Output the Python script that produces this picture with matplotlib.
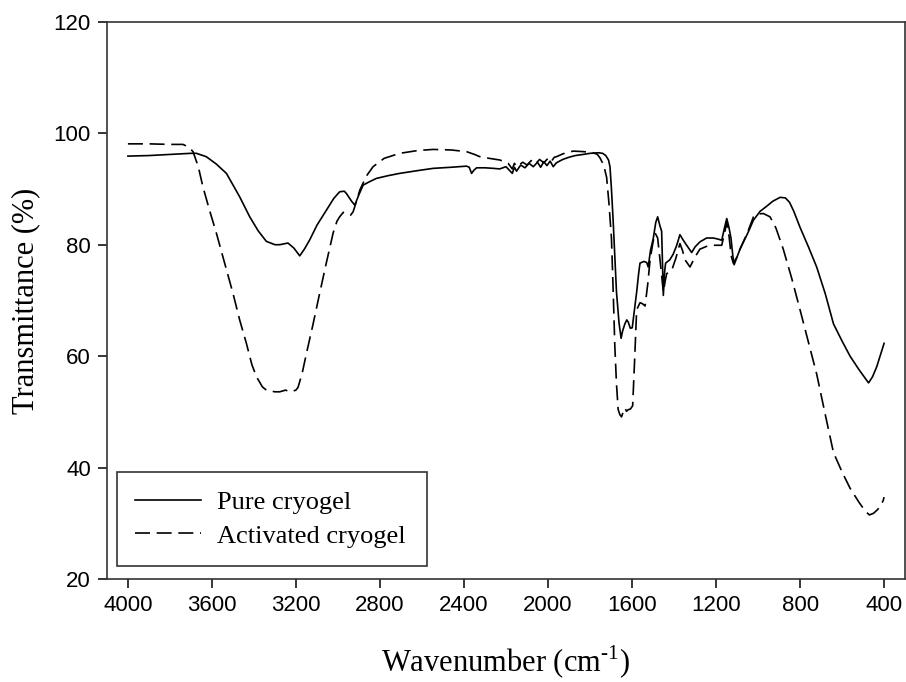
import matplotlib
matplotlib.use("Agg")
from matplotlib import pyplot as plt

# Pure cryogel (solid)
wn_pure = [4000, 3900, 3800, 3700, 3674, 3627, 3580, 3531, 3468, 3420, 3380, 3341, 3300, 3277,
           3250, 3238, 3210, 3182, 3160, 3134, 3100, 3055, 3020, 2992, 2970, 2960, 2935, 2920,
           2900, 2880, 2850, 2817, 2760, 2706, 2620, 2547, 2460, 2388, 2375, 2364, 2352, 2340,
           2300, 2260, 2230, 2200, 2185, 2170, 2160, 2150, 2130, 2110, 2090, 2070, 2050, 2035,
           2020, 2005, 1990, 1975, 1960, 1930, 1900, 1870, 1833, 1800, 1760, 1740, 1725, 1712,
           1705, 1698, 1690, 1682, 1674, 1662, 1652, 1645, 1634, 1625, 1618, 1608, 1599, 1588,
           1578, 1568, 1562, 1543, 1530, 1523, 1512, 1499, 1487, 1478, 1468, 1459, 1451, 1444,
           1440, 1420, 1404, 1388, 1372, 1356, 1340, 1316, 1300, 1277, 1245, 1213, 1190, 1173,
           1160, 1149, 1138, 1129, 1120, 1114, 1100, 1086, 1050, 1022, 990, 959, 930, 895,
           870, 850, 830, 800, 760, 721, 680, 641, 600, 562, 520, 474, 455, 435, 415, 400]
t_pure = [95.9, 96.0, 96.2, 96.4, 96.4, 95.8, 94.5, 92.8, 88.6, 85.0, 82.5, 80.6, 80.0, 80.0,
          80.2, 80.3, 79.4, 78.0, 79.2, 80.9, 83.5, 86.2, 88.3, 89.5, 89.6, 89.2, 87.8, 87.1,
          89.0, 90.7, 91.3, 91.9, 92.4, 92.8, 93.3, 93.7, 93.9, 94.1, 93.9, 92.8, 93.4, 93.8,
          93.8, 93.7, 93.6, 94.0, 93.4, 92.8, 93.9, 93.2, 94.3, 93.8, 94.6, 94.0, 94.8, 93.9,
          94.9, 94.2, 95.0, 94.0, 94.7, 95.3, 95.7, 96.0, 96.2, 96.4, 96.5, 96.4, 96.0, 95.2,
          94.0, 90.0, 84.4, 78.0, 71.5, 66.0, 63.2, 64.5, 65.8, 66.5, 66.1, 65.0, 65.1, 68.5,
          71.5, 75.0, 76.7, 77.0, 76.8, 76.0, 79.0, 81.1, 84.0, 85.0, 83.5, 82.4, 70.9, 75.5,
          76.7, 77.3, 78.3, 79.8, 81.8, 80.8, 79.9, 78.6, 79.6, 80.5, 81.2, 81.2, 81.0, 80.8,
          83.0, 84.7, 83.0, 81.2, 78.0, 76.4, 77.8, 79.2, 82.0, 84.4, 86.0, 86.9, 87.8, 88.5,
          88.4, 87.6, 86.0, 83.1, 79.6, 76.0, 71.2, 65.8, 62.7, 60.0, 57.6, 55.2, 56.3, 58.1, 60.5, 62.3]

# Activated cryogel (dashed)
wn_act = [4000, 3900, 3800, 3738, 3710, 3690, 3665, 3643, 3610, 3579, 3540, 3500, 3468, 3436,
          3410, 3388, 3360, 3341, 3300, 3277, 3250, 3225, 3200, 3190, 3170, 3150, 3120, 3087,
          3055, 3023, 3005, 2992, 2975, 2960, 2940, 2928, 2910, 2896, 2865, 2833, 2780, 2706,
          2620, 2547, 2460, 2388, 2350, 2325, 2280, 2229, 2190, 2170, 2160, 2150, 2120, 2100,
          2080, 2060, 2040, 2020, 2000, 1985, 1970, 1959, 1930, 1880, 1830, 1785, 1765, 1753,
          1735, 1721, 1710, 1698, 1690, 1682, 1674, 1666, 1658, 1650, 1642, 1634, 1626, 1618,
          1608, 1597, 1588, 1578, 1562, 1550, 1538, 1525, 1514, 1500, 1490, 1478, 1466, 1451,
          1442, 1435, 1411, 1392, 1372, 1360, 1348, 1324, 1300, 1277, 1245, 1213, 1173, 1160,
          1149, 1138, 1128, 1118, 1100, 1086, 1050, 1022, 1000, 975, 943, 915, 880, 840,
          800, 760, 721, 680, 641, 600, 562, 520, 490, 470, 450, 430, 419, 405, 400]
t_act = [98.1, 98.1, 98.0, 98.0, 97.5, 96.7, 94.0, 90.4, 86.0, 82.1, 76.8, 71.3, 66.5, 62.3,
         58.5, 56.3, 54.5, 53.9, 53.6, 53.6, 53.9, 53.6, 53.9, 54.4, 57.0, 60.5, 65.5, 71.3,
         76.8, 82.1, 84.2, 85.0, 85.8, 85.7, 85.3, 85.9, 88.0, 89.8, 92.3, 94.0, 95.5, 96.4,
         96.9, 97.1, 97.0, 96.7, 96.2, 95.8, 95.5, 95.2, 94.6, 93.6, 94.6, 94.0, 94.8, 94.3,
         95.1, 94.5, 95.3, 94.7, 95.5, 94.9, 95.7, 95.8, 96.3, 96.8, 96.7, 96.5, 96.2, 95.6,
         94.3, 92.1, 87.5, 81.2, 72.0, 61.9, 55.0, 50.4, 49.5, 49.1, 50.0, 50.7, 50.1, 50.4,
         50.5, 51.1, 59.0, 68.3, 69.6, 69.4, 69.0, 73.0, 77.3, 80.5, 82.1, 81.2, 77.0, 71.5,
         73.5, 74.8, 75.4, 77.5, 80.2, 79.0, 77.3, 76.0, 77.8, 79.2, 79.7, 79.9, 79.9, 82.0,
         84.0, 81.5, 78.0, 76.7, 77.8, 79.2, 82.2, 85.0, 85.5, 85.6, 85.0, 83.0, 79.2, 74.0,
         68.3, 62.5, 56.8, 49.5, 42.7, 39.2, 36.3, 33.8, 32.2, 31.5, 31.8, 32.5, 33.1, 34.0, 34.7]

x_ticks = [4000, 3600, 3200, 2800, 2400, 2000, 1600, 1200, 800, 400]
y_ticks = [20, 40, 60, 80, 100, 120]

serif = "Liberation Serif"
sans = "Liberation Sans"
plt.rcParams["mathtext.fontset"] = "custom"
plt.rcParams["mathtext.rm"] = serif

fig = plt.figure(figsize=(9.06, 6.82), dpi=100)
ax = fig.add_axes([0.118, 0.151, 0.881, 0.817])

ax.plot(wn_pure, t_pure, color="black", lw=1.2, label="Pure cryogel")
ax.plot(wn_act, t_act, color="black", lw=1.2, linestyle=(0, (9, 4)), label="Activated cryogel")

ax.set_xlim(4100, 300)
ax.set_ylim(20, 120)
ax.set_xticks(x_ticks)
ax.set_yticks(y_ticks)
ax.tick_params(direction="out", length=6.5, width=1.1, labelsize=16, pad=5)
for lab in ax.get_xticklabels() + ax.get_yticklabels():
    lab.set_fontfamily(sans)
for sp in ax.spines.values():
    sp.set_linewidth(1.2)
    sp.set_color("#333333")

ax.set_xlabel("Wavenumber (cm$^{\\mathrm{\u2010}1}$)", fontfamily=serif, fontsize=22, labelpad=20)
ax.set_ylabel("Transmittance (%)", fontfamily=serif, fontsize=22, labelpad=10)

leg = ax.legend(loc="lower left", bbox_to_anchor=(0.0125, 0.023, 0.3885, 0.1), mode="expand",
                borderaxespad=0, prop={"family": serif, "size": 19}, frameon=True,
                fancybox=False, handlelength=2.5, handletextpad=0.6, labelspacing=0.38,
                borderpad=0.7)
leg.get_frame().set_edgecolor("black")
leg.get_frame().set_linewidth(1.2)

fig.savefig("out.png", dpi=100)
